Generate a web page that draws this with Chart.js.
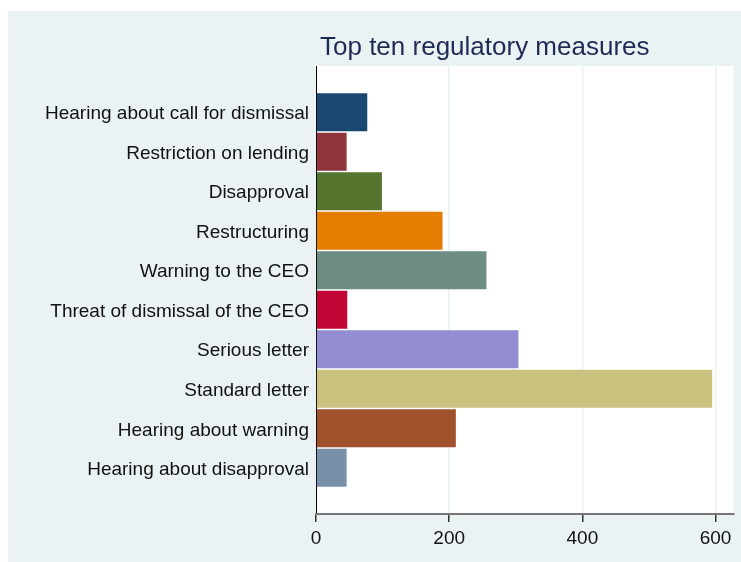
<!DOCTYPE html>
<html>
<head>
<meta charset="utf-8">
<script src="https://cdn.jsdelivr.net/npm/chart.js@4"></script>
<style>
	html, body { margin: 0; padding: 0; background: #fff; }
	canvas { display: block; }
</style>
</head>
<body>
<canvas id="canvas" width="741" height="562"></canvas>
<script>
const categories = [
	"Hearing about call for dismissal",
	"Restriction on lending",
	"Disapproval",
	"Restructuring",
	"Warning to the CEO",
	"Threat of dismissal of the CEO",
	"Serious letter",
	"Standard letter",
	"Hearing about warning",
	"Hearing about disapproval",
];
const counts = [78, 47, 100, 191, 257, 48, 305, 596, 211, 47];
const xTicks = [0, 200, 400, 600];
const colores = ["#1a476f", "#90353b", "#55752f", "#e37e00", "#6e8e84", "#c10534", "#938dd2", "#cac27e", "#a0522d", "#7890a8"];

const FONT = "'Liberation Sans', Arial, sans-serif";

const fondo = {
	id: "fondo",
	beforeDraw(chart) {
		const { ctx, chartArea: a } = chart;
		ctx.save();
		ctx.fillStyle = "#ffffff";
		ctx.fillRect(0, 0, chart.width, chart.height);
		ctx.fillStyle = "#eaf2f3";
		ctx.fillRect(8, 11, chart.width - 8, chart.height - 11);
		ctx.fillStyle = "#ffffff";
		ctx.fillRect(a.left, a.top, a.right - a.left, a.bottom - a.top);
		ctx.restore();
	},
	afterDraw(chart) {
		const ctx = chart.ctx;
		ctx.save();
		ctx.fillStyle = "#1e2b55";
		ctx.font = "26px " + FONT;
		ctx.textBaseline = "alphabetic";
		ctx.fillText("Top ten regulatory measures", 320, 55);
		ctx.restore();
	},
};

const grafico = new Chart(document.getElementById("canvas"), {
	type: "bar",
	data: {
		datasets: [
			{
				data: counts.map((v, i) => ({ x: v, y: i })),
				backgroundColor: colores,
				borderColor: "rgba(255,255,255,0.35)",
				borderWidth: 1,
				barPercentage: 1,
				categoryPercentage: 1,
			},
		],
	},
	options: {
		indexAxis: "y",
		responsive: false,
		animation: false,
		devicePixelRatio: 1,
		layout: { padding: { top: 66, right: 7.5, left: 0, bottom: 0 } },
		plugins: { legend: { display: false }, tooltip: { enabled: false } },
		scales: {
			y: {
				type: "linear",
				bounds: "data",
				offset: false,
				reverse: true,
				min: -1.17,
				max: 10.17,
				afterBuildTicks: (s) => { s.ticks = categories.map((_, i) => ({ value: i })); },
				afterFit: (s) => { s.width = 316; },
				ticks: {
					callback: (v) => categories[v] ?? "",
					padding: 7,
					labelOffset: 2,
					color: "#111",
					font: { family: FONT, size: 19 },
				},
				grid: { display: false, drawTicks: false, offset: false },
				border: { display: true, color: "#000", width: 1 },
			},
			x: {
				type: "linear",
				bounds: "data",
				min: 0,
				max: 627,
				afterBuildTicks: (s) => { s.ticks = xTicks.map((v) => ({ value: v })); },
				afterFit: (s) => { s.height = 48; },
				ticks: {
					padding: 5,
					color: "#111",
					font: { family: FONT, size: 19 },
				},
				grid: {
					color: (c) => (c.tick && c.tick.value === 0 ? "rgba(0,0,0,0)" : "#eaf2f3"),
					lineWidth: 1.5,
					tickColor: "#333",
					tickLength: 8,
				},
				border: { display: true, color: "#777", width: 2 },
			},
		},
	},
	plugins: [fondo],
});
</script>
</body>
</html>
